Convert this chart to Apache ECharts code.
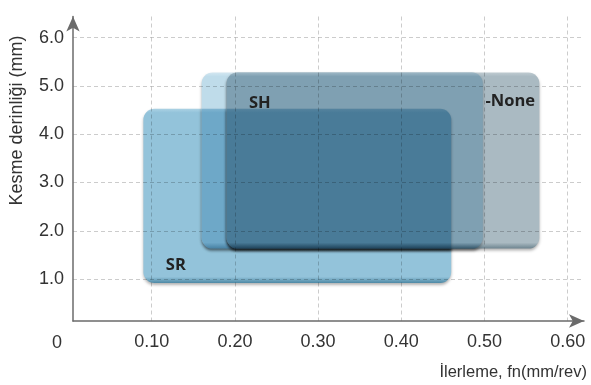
<!DOCTYPE html>
<html><head><meta charset="utf-8">
<script src="https://cdn.jsdelivr.net/npm/echarts@6/dist/echarts.min.js"></script>
<style>html,body{margin:0;padding:0;background:#fff}#c{width:591px;height:385px}</style>
</head><body><div id="c"></div>
<script>
// Regions (tool grades): feed range (mm/rev) x depth-of-cut range (mm)
const regionNames = ['SR', 'SH', '-None'];
const feedMin  = [0.09, 0.16, 0.19];
const feedMax  = [0.46, 0.498, 0.566];
const depthMin = [0.92, 1.63, 1.63];
const depthMax = [4.53, 5.28, 5.28];
const labelFeed  = [0.129, 0.230, 0.531];
const labelDepth = [1.29, 4.65, 4.69];
const xTicks = [0.1, 0.2, 0.3, 0.4, 0.5, 0.6];
const yTicks = [1, 2, 3, 4, 5, 6];

const palette = [
  {top:[172,210,228], base:[147,195,218], dark:[79,138,166]},
  {top:[211,231,241], base:[191,220,234], dark:[122,167,190]},
  {top:[191,203,209], base:[170,186,194], dark:[108,131,142]}
];

const rectData = regionNames.map((n,i)=>[feedMin[i], feedMax[i], depthMin[i], depthMax[i]]);
const labelData = regionNames.map((n,i)=>[labelFeed[i], labelDepth[i], n]);

function mulColors(list){
  const out = [255,255,255];
  list.forEach(c=>{ for(let k=0;k<3;k++) out[k] = out[k]*c[k]/255; });
  return 'rgb(' + out.map(Math.round).join(',') + ')';
}
function near(a,b){ return Math.abs(a-b) < 1e-9; }

const chart = echarts.init(document.getElementById('c'), null, {renderer:'canvas'});
const axisColor = '#6b6b6b';
const gridLine = {type:[4,3], color:'rgba(0,0,0,0.2)', width:1};
chart.setOption({
  animation:false,
  grid:{left:73, right:7, top:16.5, bottom:64, containLabel:false},
  xAxis:{type:'value', min:0.0054, max:0.6196, z:4,
    axisLine:{lineStyle:{color:axisColor, width:1.5}, symbol:['none','arrow'], symbolSize:[10,15]},
    axisTick:{show:false, customValues:xTicks},
    axisLabel:{customValues:xTicks, formatter:v=>v.toFixed(2), fontSize:18, color:'#333', margin:12, fontFamily:'Liberation Sans'},
    splitLine:{show:true, customValues:xTicks, lineStyle:gridLine}
  },
  yAxis:{type:'value', min:0.13, max:6.44, z:4,
    axisLine:{show:true, lineStyle:{color:axisColor, width:1.5}, symbol:['none','arrow'], symbolSize:[10,15]},
    axisTick:{show:false, customValues:yTicks},
    axisLabel:{customValues:yTicks, formatter:v=>v.toFixed(1), fontSize:18, color:'#333', margin:9, fontFamily:'Liberation Sans'},
    splitLine:{show:true, customValues:yTicks, lineStyle:gridLine}
  },
  graphic:[
    {type:'text', x:57, y:343, style:{text:'0', fontSize:18, fontFamily:'Liberation Sans', fill:'#333', align:'center', verticalAlign:'middle'}},
    {type:'text', x:587, y:372, style:{text:'İlerleme, fn(mm/rev)', fontSize:16.5, fontFamily:'Liberation Sans', fill:'#333', align:'right', verticalAlign:'middle'}},
    {type:'text', x:17.5, y:120.5, rotation:Math.PI/2, style:{text:'Kesme derinliği (mm)', fontSize:18, fontFamily:'Liberation Sans', fill:'#333', align:'center', verticalAlign:'middle'}}
  ],
  series:[
    {type:'custom', data:rectData, clip:false, z:2,
      renderItem:function(params, api){
        const i = params.dataIndex;
        const subsets = [];
        const others = [];
        for (let k=0;k<i;k++) others.push(k);
        const nSub = 1 << others.length;
        for (let m=0;m<nSub;m++){
          const s = [];
          others.forEach((k,j)=>{ if (m & (1<<j)) s.push(k); });
          s.push(i);
          subsets.push(s);
        }
        subsets.sort((a,b)=>a.length-b.length);
        const children = [];
        const R = 11;
        subsets.forEach(S=>{
          const x0 = Math.max(...S.map(k=>api.value(0,k)));
          const x1 = Math.min(...S.map(k=>api.value(1,k)));
          const y0 = Math.max(...S.map(k=>api.value(2,k)));
          const y1 = Math.min(...S.map(k=>api.value(3,k)));
          if (x0 >= x1 || y0 >= y1) return;
          const L = S.filter(k=>near(api.value(0,k),x0));
          const Rt = S.filter(k=>near(api.value(1,k),x1));
          const B = S.filter(k=>near(api.value(2,k),y0));
          const T = S.filter(k=>near(api.value(3,k),y1));
          const share = (a,b)=>a.some(k=>b.includes(k)) ? R : 0;
          const p0 = api.coord([x0, y1]);
          const p1 = api.coord([x1, y0]);
          const w = p1[0]-p0[0], h = p1[1]-p0[1];
          const topC = mulColors(S.map(k=>T.includes(k) ? palette[k].top : palette[k].base));
          const baseC = mulColors(S.map(k=>palette[k].base));
          const darkC = mulColors(S.map(k=>B.includes(k) ? palette[k].dark : palette[k].base));
          children.push({type:'rect',
            shape:{x:p0[0], y:p0[1], width:w, height:h, r:[share(L,T), share(Rt,T), share(Rt,B), share(L,B)]},
            style:{
              fill:{type:'linear', x:0, y:0, x2:0, y2:1, colorStops:[
                {offset:0, color:topC}, {offset:4/h, color:baseC},
                {offset:1-6/h, color:baseC}, {offset:1, color:darkC}]},
              shadowBlur:3, shadowOffsetY:2, shadowColor:'rgba(0,0,0,0.3)'
            }});
        });
        return {type:'group', children:children};
      }
    },
    {type:'custom', data:labelData, clip:false, z:5,
      renderItem:function(params, api){
        const p = api.coord([api.value(0), api.value(1)]);
        return {type:'text', x:p[0], y:p[1], style:{text:labelData[params.dataIndex][2], fontSize:16.5, fontWeight:'bold', fontFamily:'Open Sans', fill:'#222', align:'center', verticalAlign:'middle'}};
      }
    }
  ]
});
</script></body></html>
